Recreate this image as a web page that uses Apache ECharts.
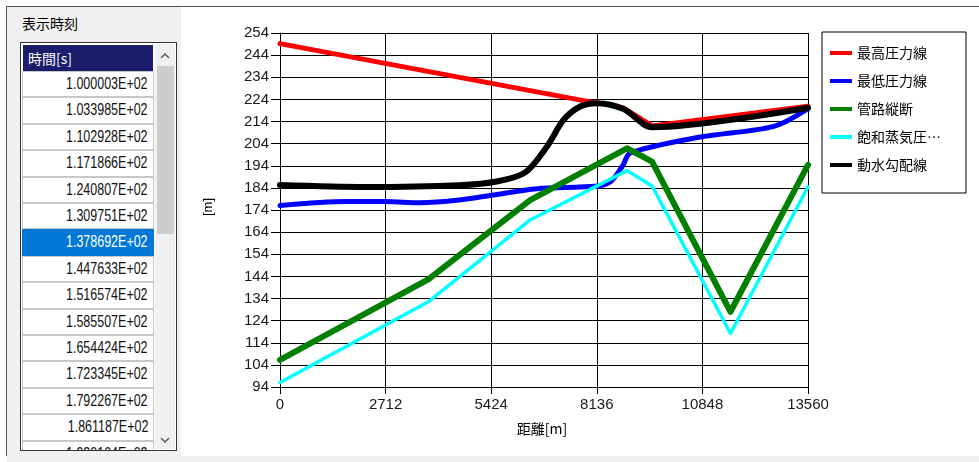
<!DOCTYPE html>
<html>
<head>
<meta charset="utf-8">
<script src="https://cdn.jsdelivr.net/npm/echarts@6/dist/echarts.min.js"></script>
<style>
  body { margin:0; width:979px; height:462px; overflow:hidden; position:relative; background:#fff; }
  #chart { position:absolute; left:0; top:0; width:979px; height:462px; }
  #frame { position:absolute; left:6px; top:6px; width:973px; height:450px; border-top:1px solid #555; border-left:1px solid #555; box-sizing:border-box; }
  #bottomStrip { position:absolute; left:7px; top:456px; width:972px; height:6px; background:#f0f0f0; }
  #panel { position:absolute; left:7px; top:7px; width:174px; height:449px; background:#f0f0f0; }
  #ptitle { position:absolute; left:15px; top:8px; font:14px "Noto Sans CJK JP", sans-serif; line-height:16px; color:#000; }
  #tbl { position:absolute; left:13px; top:35px; width:157px; height:409px; border:1px solid #333; box-sizing:border-box; background:#fff; overflow:hidden; }
  #hdr { position:absolute; left:2px; top:2px; width:130px; height:26px; background:#1c1c6c; color:#fff; font:14px "Noto Sans CJK JP", sans-serif; line-height:26px; padding-left:5px; box-sizing:border-box; }
  .row { position:absolute; left:1px; width:132px; height:26.4px; box-sizing:border-box; border:1px solid #c8c8c8; background:#fff; color:#111; font:16px "Liberation Sans",sans-serif; text-align:right; padding-right:5px; line-height:24px; }
  .row span { display:inline-block; transform:scaleX(0.78); transform-origin:right center; }
  .row.sel { background:#0078d7; color:#fff; border-color:#0078d7; }
  #sb { position:absolute; left:134px; top:1px; width:20px; height:405px; background:#f0f0f0; }
  #thumb { position:absolute; left:2px; top:22px; width:17px; height:168px; background:#cdcdcd; }
  .arr { position:absolute; left:5px; width:10px; height:6px; }
</style>
</head>
<body>
<div id="chart"></div>
<div id="frame"></div>
<div id="bottomStrip"></div>
<div id="panel">
  <div id="ptitle">表示時刻</div>
  <div id="tbl">
    <div id="hdr">時間[s]</div>
    <div id="rows"></div>
    <div id="sb">
      <svg class="arr" style="top:9px" viewBox="0 0 10 6"><polyline points="1,5 5,1 9,5" fill="none" stroke="#606060" stroke-width="1.6"/></svg>
      <div id="thumb"></div>
      <svg class="arr" style="top:393px" viewBox="0 0 10 6"><polyline points="1,1 5,5 9,1" fill="none" stroke="#606060" stroke-width="1.6"/></svg>
    </div>
  </div>
</div>
<script>
// ---------- data ----------
const timeHeader = "時間[s]";
const timeLabels = ["1.000003E+02","1.033985E+02","1.102928E+02","1.171866E+02","1.240807E+02","1.309751E+02","1.378692E+02","1.447633E+02","1.516574E+02","1.585507E+02","1.654424E+02","1.723345E+02","1.792267E+02","1.861187E+02","1.930104E+02"];
const selectedRow = 6;

const seriesNames = ["最高圧力線","最低圧力線","管路縦断","飽和蒸気圧線","動水勾配線"];

const maxDist = [0, 8136, 8500, 8825, 9555, 13560];
const maxHead = [249.2, 222.3, 221.6, 220.0, 212.0, 220.9];

const minDist = [0, 1700, 2712, 3600, 4600, 5480, 6600, 8140, 8500, 8800, 9000, 10800, 12683, 13560];
const minHead = [176.0, 177.8, 177.8, 177.3, 178.5, 180.8, 183.6, 184.8, 187.0, 194.0, 199.8, 207.0, 211.8, 219.8];

const pipeDist = [0, 3808, 6424, 8911, 9555, 11569, 13560];
const pipeElev = [106.3, 142.6, 178.5, 201.9, 195.9, 128.0, 194.4];

const vapDist = [0, 3808, 6424, 8911, 9555, 11569, 13560];
const vapHead = [96.0, 132.5, 169.5, 191.8, 184.9, 118.2, 184.5];

const hglDist = [0, 2200, 4600, 5600, 6300, 6853, 7281, 7710, 8140, 8825, 9555, 13560];
const hglHead = [185.3, 184.4, 185.2, 187.0, 191.0, 202.6, 214.7, 220.8, 222.3, 219.6, 211.4, 220.2];

const xAxisName = "距離[m]";
const yAxisName = "[m]";

// ---------- table panel ----------
const rowsEl = document.getElementById('rows');
timeLabels.forEach((t, i) => {
  const d = document.createElement('div');
  d.className = 'row' + (i === selectedRow ? ' sel' : '');
  d.style.top = (28 + i * 26.4) + 'px';
  const s = document.createElement('span');
  s.textContent = t;
  d.appendChild(s);
  rowsEl.appendChild(d);
});

// ---------- chart ----------
const zip = (a, b) => a.map((v, i) => [v, b[i]]);
const chart = echarts.init(document.getElementById('chart'));
const labelFont = { fontSize: 15, color: '#1a1a1a', fontFamily: 'Liberation Sans, Arial, sans-serif' };
const lineSeries = (name, data, color, width, smooth) => ({
  name, type: 'line', data, showSymbol: false, symbol: 'none',
  smooth: smooth || false,
  lineStyle: { color, width, cap: 'round', join: 'round' },
  itemStyle: { color }, emphasis: { disabled: true }, animation: false
});

chart.setOption({
  animation: false,
  backgroundColor: 'transparent',
  grid: { left: 280, top: 33, width: 528, height: 354, outerBoundsMode: 'none', containLabel: false },
  xAxis: {
    type: 'value', min: 0, max: 13560, interval: 2712,
    axisLine: { show: true, lineStyle: { color: '#000', width: 1 } },
    axisTick: { show: true, length: 7, lineStyle: { color: '#000' } },
    axisLabel: Object.assign({ margin: 10, formatter: v => String(v) }, labelFont),
    splitLine: { show: true, lineStyle: { color: '#000', width: 1 } }
  },
  yAxis: {
    type: 'value', min: 94, max: 254, interval: 10,
    axisLine: { show: true, lineStyle: { color: '#000', width: 1 } },
    axisTick: { show: true, length: 9, lineStyle: { color: '#000' } },
    axisLabel: Object.assign({ margin: 11, formatter: v => String(v) }, labelFont),
    splitLine: { show: true, lineStyle: { color: '#000', width: 1 } }
  },
  legend: {
    orient: 'vertical', left: 830, top: 45, itemWidth: 22, itemHeight: 4, itemGap: 12,
    icon: 'rect', padding: 0, selectedMode: false,
    formatter: n => n.length > 5 ? n.slice(0, 5) + '…' : n,
    textStyle: { fontSize: 14, lineHeight: 16, color: '#000', fontFamily: 'Noto Sans CJK JP' },
    data: seriesNames
  },
  graphic: [
    { type: 'rect', z: 1, shape: { x: 822, y: 32, width: 144, height: 161 }, style: { fill: '#fff', stroke: '#000', lineWidth: 1 } },
    { type: 'text', z: 5, x: 542, y: 429, style: { text: xAxisName, fontSize: 14, fontFamily: 'Noto Sans CJK JP', fill: '#000', align: 'center', verticalAlign: 'middle' } },
    { type: 'text', z: 5, x: 208, y: 207, rotation: Math.PI / 2, style: { text: yAxisName, fontSize: 13, fontFamily: 'Liberation Sans, sans-serif', fill: '#000', align: 'center', verticalAlign: 'middle' } }
  ],
  series: [
    lineSeries(seriesNames[0], zip(maxDist, maxHead), '#ff0000', 5, false),
    lineSeries(seriesNames[1], zip(minDist, minHead), '#0000ff', 5, 0.3),
    lineSeries(seriesNames[2], zip(pipeDist, pipeElev), '#008000', 6, false),
    lineSeries(seriesNames[3], zip(vapDist, vapHead), '#00ffff', 3.5, false),
    lineSeries(seriesNames[4], zip(hglDist, hglHead), '#000000', 6, 0.3)
  ]
});
</script>
</body>
</html>
